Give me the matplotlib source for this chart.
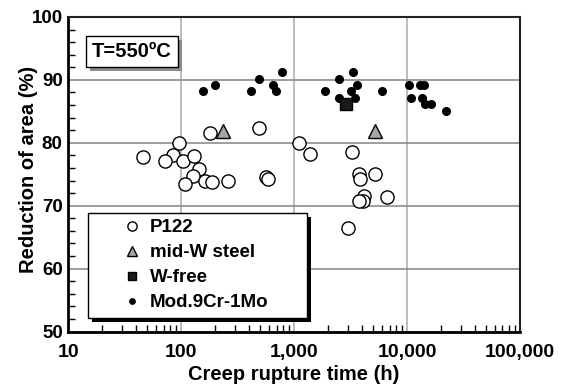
import matplotlib

matplotlib.use("Agg")
import matplotlib.pyplot as plt
import matplotlib.patheffects as pe
from matplotlib.patches import Rectangle
from matplotlib.ticker import LogLocator, MultipleLocator

plt.rcParams["font.family"] = ["Liberation Sans", "DejaVu Sans"]
plt.rcParams["font.weight"] = "bold"
plt.rcParams["axes.labelweight"] = "bold"

# P122 (open circles)
p122_time = [46, 96, 84, 72, 103, 131, 181, 145, 126, 108, 162, 189, 260,
             488, 567, 586, 1100, 1370, 3230, 3780, 3850, 5220, 4180, 4040,
             3720, 6710, 3020]
p122_ra = [77.8, 80.0, 78.0, 77.1, 77.1, 77.9, 81.6, 75.9, 74.8, 73.5, 74.0,
           73.8, 74.0, 82.3, 74.6, 74.2, 80.0, 78.2, 78.6, 75.0, 74.3, 75.1,
           71.6, 70.8, 70.7, 71.4, 66.4]

# mid-W steel (grey triangles)
midw_time = [235, 5220]
midw_ra = [81.9, 81.9]

# W-free (square)
wfree_time = [2880]
wfree_ra = [86.2]

# Mod.9Cr-1Mo (small dots)
mod9_time = [155, 198, 412, 492, 649, 685, 774, 1866, 2512, 3300, 3605, 3190,
             2483, 3462, 5990, 10450, 12980, 14160, 10940, 13680, 14450,
             16420, 22130]
mod9_ra = [88.2, 89.2, 88.2, 90.1, 89.2, 88.2, 91.2, 88.2, 90.2, 91.2, 89.2,
           88.2, 87.1, 87.1, 88.2, 89.2, 89.2, 89.2, 87.1, 87.1, 86.2, 86.2,
           85.1]

x_ticks = [10, 100, 1000, 10000, 100000]
y_ticks = [50, 60, 70, 80, 90, 100]

fig = plt.figure(figsize=(5.63, 3.87), dpi=100)
ax = fig.add_axes([0.1213, 0.1434, 0.8023, 0.8127])

ax.plot(p122_time, p122_ra, "o", ms=9.5, mfc="white", mec="black", mew=1.0,
        ls="none", label="P122", zorder=3)
ax.plot(midw_time, midw_ra, "^", ms=10.5, mfc="#a6a6a6", mec="black", mew=1.0,
        ls="none", label="mid-W steel", zorder=4)
ax.plot(wfree_time, wfree_ra, "s", ms=9, mfc="#1a1a1a", mec="black", mew=1.0,
        ls="none", label="W-free", zorder=6)
ax.plot(mod9_time, mod9_ra, "o", ms=5.5, mfc="black", mec="black",
        ls="none", label="Mod.9Cr-1Mo", zorder=5)

ax.set_xscale("log")
ax.set_xticks(x_ticks, [f"{v:,}" for v in x_ticks], fontsize=14,
              fontweight="bold")
ax.set_yticks(y_ticks, [str(v) for v in y_ticks], fontsize=13.5,
              fontweight="bold")
ax.xaxis.set_minor_locator(LogLocator(base=10, subs=range(2, 10), numticks=20))
ax.yaxis.set_minor_locator(MultipleLocator(2))
ax.set_xlim(10, 100000)
ax.set_ylim(50, 100)

ax.tick_params(which="both", direction="in")
ax.tick_params(axis="y", which="major", length=0, pad=4)
ax.tick_params(axis="x", which="major", length=0, pad=9)
ax.tick_params(which="minor", length=5, width=1)
ax.grid(True, which="major", axis="x", color="#b0b0b0", lw=1.2)
ax.grid(True, which="major", axis="y", color="#8c8c8c", lw=1.2)
ax.set_axisbelow(True)

for side in ("left", "bottom"):
    ax.spines[side].set_linewidth(2)
for side in ("top", "right"):
    ax.spines[side].set_linewidth(1.5)
    ax.spines[side].set_color("#222222")

ax.set_xlabel("Creep rupture time (h)", fontsize=14.5, labelpad=3)
ax.set_ylabel("Reduction of area (%)", fontsize=14.5)
ax.yaxis.set_label_coords(-0.066, 0.516)

# legend frame drawn by hand so it can carry a hard black drop shadow
frame = Rectangle((0.0436, 0.043), 0.4844, 0.334, transform=ax.transAxes,
                  fc="white", ec="black", lw=1.0, zorder=9)
frame.set_path_effects([pe.SimplePatchShadow(offset=(3, -3), shadow_rgbFace="black",
                                             alpha=1.0), pe.Normal()])
ax.add_patch(frame)

leg = ax.legend(loc="upper left", bbox_to_anchor=(0.12, 0.357), fontsize=13.5,
                frameon=False, borderpad=0, labelspacing=0.42,
                handletextpad=0.45, borderaxespad=0, handlelength=1.0,
                markerscale=0.7)
leg.set_zorder(10)

# temperature box with a grey drop shadow
t_label = ax.text(0.0525, 0.89, "T=550ºC", transform=ax.transAxes,
                  fontsize=14.5, va="center", ha="left", zorder=8,
                  bbox=dict(boxstyle="square,pad=0.3", fc="white", ec="black",
                            lw=1.0))
t_label.get_bbox_patch().set_path_effects(
    [pe.SimplePatchShadow(offset=(3, -3), shadow_rgbFace="#8c8c8c", alpha=1.0),
     pe.Normal()])

fig.savefig("out.png", dpi=100)
